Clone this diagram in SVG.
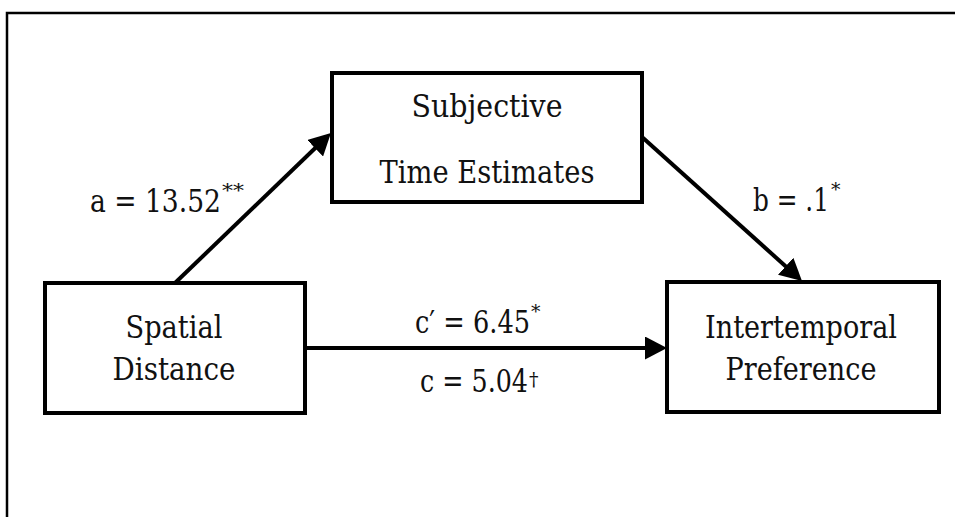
<svg xmlns="http://www.w3.org/2000/svg" width="955" height="517" viewBox="0 0 955 517">
<style>
.box{fill:#fff;stroke:#000;stroke-width:4}
.t{font-family:'DejaVu Serif',serif;font-size:32px;fill:#111}
.c{text-anchor:middle}
.sup{font-family:'DejaVu Serif',serif;font-size:19px;fill:#111}
.edge{stroke:#000;stroke-width:4;fill:none;marker-end:url(#ah)}
</style>
<defs>
<marker id="ah" markerUnits="userSpaceOnUse" markerWidth="22" markerHeight="23" refX="10" refY="11.5" orient="auto" viewBox="0 0 22 23">
<path d="M0,0 L22,11.5 L0,23 z" fill="#000"/>
</marker>
</defs>
<rect width="955" height="517" fill="#fff"/>
<path d="M7,530 V13 H970" fill="none" stroke="#000" stroke-width="2.5"/>
<g id="connectors">
<line class="edge" x1="175" y1="283" x2="322.3" y2="141.3"/>
<line class="edge" x1="642" y1="137" x2="793.1" y2="273"/>
<line class="edge" x1="305" y1="348" x2="655" y2="348"/>
</g>
<g id="labels">
<text class="t" x="90" y="212" textLength="131" lengthAdjust="spacingAndGlyphs">a = 13.52</text>
<text class="sup" x="222" y="197" textLength="22" lengthAdjust="spacingAndGlyphs">**</text>
<text class="t" x="753" y="211" textLength="76" lengthAdjust="spacingAndGlyphs">b = .1</text>
<text class="sup" x="831" y="196">*</text>
<text class="t" x="415" y="333" textLength="115" lengthAdjust="spacingAndGlyphs">c′ = 6.45</text>
<text class="sup" x="531" y="318">*</text>
<text class="t" x="420" y="392" textLength="108" lengthAdjust="spacingAndGlyphs">c = 5.04</text>
<text class="sup" x="529" y="386">†</text>
</g>
<g id="node-subjective">
<rect class="box" x="332" y="73" width="310" height="129"/>
<text class="t c" x="487" y="117" textLength="151" lengthAdjust="spacingAndGlyphs">Subjective</text>
<text class="t c" x="487" y="183" textLength="215" lengthAdjust="spacingAndGlyphs">Time Estimates</text>
</g>
<g id="node-spatial">
<rect class="box" x="45" y="283" width="260" height="130"/>
<text class="t c" x="174" y="338" textLength="97" lengthAdjust="spacingAndGlyphs">Spatial</text>
<text class="t c" x="174" y="380" textLength="123" lengthAdjust="spacingAndGlyphs">Distance</text>
</g>
<g id="node-intertemporal">
<rect class="box" x="667" y="282" width="272" height="130"/>
<text class="t c" x="801" y="338" textLength="192" lengthAdjust="spacingAndGlyphs">Intertemporal</text>
<text class="t c" x="801" y="380" textLength="151" lengthAdjust="spacingAndGlyphs">Preference</text>
</g>
</svg>
